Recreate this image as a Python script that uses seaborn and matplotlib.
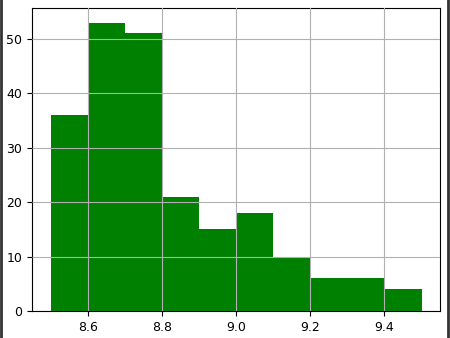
import matplotlib
matplotlib.use("Agg")
import matplotlib.pyplot as plt
import seaborn as sns
import numpy as np
from matplotlib.lines import Line2D

bin_edges = [8.5, 8.6, 8.7, 8.8, 8.9, 9.0, 9.1, 9.2, 9.3, 9.4, 9.5]
counts = [36, 53, 51, 21, 15, 18, 10, 6, 6, 4]
bin_centers = [(a + b) / 2 for a, b in zip(bin_edges[:-1], bin_edges[1:])]
x_ticks = [8.6, 8.8, 9.0, 9.2, 9.4]
y_ticks = [0, 10, 20, 30, 40, 50]

plt.rcParams['font.family'] = ['DejaVu Sans']
fig, ax = plt.subplots(figsize=(4.5, 3.38), dpi=100)
sns.histplot(x=bin_centers, weights=counts, bins=bin_edges, color="green",
             alpha=1.0, linewidth=0, ax=ax)
ax.set_xticks(x_ticks)
ax.set_xticklabels([f"{t:.1f}" for t in x_ticks])
ax.set_yticks(y_ticks)
ax.set_xlabel("")
ax.set_ylabel("")
ax.grid(True, color="#b0b0b0", linewidth=0.8)
ax.set_axisbelow(False)
ax.tick_params(labelsize=9)
fig.subplots_adjust(left=0.071, right=0.978, top=0.976, bottom=0.08)

fig.add_artist(Line2D([0.003, 0.003], [0, 1], transform=fig.transFigure, color="#333333", linewidth=2.0))
fig.add_artist(Line2D([0.995, 0.995], [0, 1], transform=fig.transFigure, color="#333333", linewidth=2.0))
fig.savefig("out.png", dpi=100)
